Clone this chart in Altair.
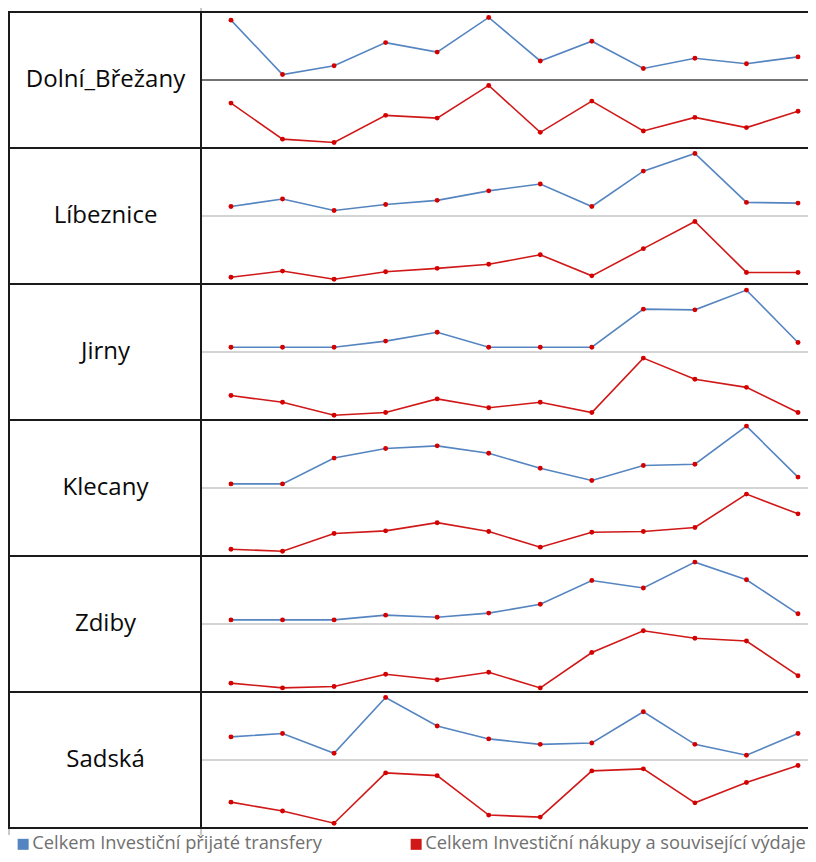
import altair as alt
import pandas as pd

# ---- data (relative heights, % of each series' half-band) ----
municipalities = ["Dolní_Břežany", "Líbeznice", "Jirny", "Klecany", "Zdiby", "Sadská"]
series_blue = "Celkem Investiční přijaté transfery"
series_red = "Celkem Investiční nákupy a související výdaje"
periods = list(range(1, 13))

blue_values = [
    [88, 8, 21, 55, 41, 92, 28, 57, 17, 32, 24, 34],
    [14, 25, 8, 17, 23, 37, 47, 14, 66, 92, 20, 19],
    [7, 7, 7, 16, 29, 7, 7, 7, 63, 62, 91, 14],
    [6, 6, 44, 58, 62, 51, 29, 11, 33, 35, 91, 16],
    [6, 6, 6, 13, 10, 16, 29, 64, 53, 91, 65, 15],
    [34, 39, 10, 92, 50, 31, 23, 25, 71, 23, 7, 39],
]
red_values = [
    [66, 13, 8, 48, 44, 92, 23, 69, 25, 45, 30, 54],
    [10, 19, 7, 18, 23, 29, 43, 12, 52, 92, 17, 17],
    [36, 26, 7, 11, 31, 18, 26, 11, 91, 60, 48, 11],
    [10, 7, 33, 37, 49, 36, 13, 35, 36, 42, 91, 62],
    [13, 6, 8, 26, 18, 29, 6, 58, 90, 79, 75, 24],
    [38, 25, 7, 81, 77, 19, 16, 84, 87, 37, 67, 92],
]

n_rows = len(municipalities)
rows = []
for r, m in enumerate(municipalities):
    base = (n_rows - 1 - r) * 2
    for i, p in enumerate(periods):
        rows.append({"muni": m, "series": series_blue, "period": p,
                     "yv": base + 1 + blue_values[r][i] / 100, "key": m + "|b"})
        rows.append({"muni": m, "series": series_red, "period": p,
                     "yv": base + red_values[r][i] / 100, "key": m + "|r"})
df = pd.DataFrame(rows)

labels_df = pd.DataFrame({"muni": municipalities,
                          "yc": [(n_rows - 1 - r) * 2 + 1 for r in range(n_rows)]})
bounds_df = pd.DataFrame({"yb": [2 * k for k in range(n_rows + 1)]})
mid_dark_df = pd.DataFrame({"ym": [2 * n_rows - 1]})
mid_gray_df = pd.DataFrame({"ym": [2 * k + 1 for k in range(n_rows - 1)]})

W, H = 800, 816
DIV = 193
xs = alt.Scale(domain=[-3.326, 12.194], nice=False, zero=False)
ys = alt.Scale(domain=[0, 12], nice=False, zero=False)

borders_h = alt.Chart(bounds_df).mark_rule(color="#1a1a1a", strokeWidth=2).encode(
    y=alt.Y("yb:Q", scale=ys, axis=None), x=alt.value(0), x2=alt.value(W))
border_left = alt.Chart(bounds_df).mark_rule(color="#1a1a1a", strokeWidth=2).encode(
    x=alt.value(1), y=alt.value(0), y2=alt.value(H))
border_div = alt.Chart(bounds_df).mark_rule(color="#1a1a1a", strokeWidth=2).encode(
    x=alt.value(DIV), y=alt.value(0), y2=alt.value(H))
tick_b1 = alt.Chart(bounds_df).mark_rule(color="#c8c8c8", strokeWidth=1.5).encode(
    x=alt.value(DIV), y=alt.value(H + 1), y2=alt.value(H + 7))
tick_b2 = alt.Chart(bounds_df).mark_rule(color="#c8c8c8", strokeWidth=1.5).encode(
    x=alt.value(1), y=alt.value(H + 1), y2=alt.value(H + 7))
tick_t = alt.Chart(bounds_df).mark_rule(color="#c8c8c8", strokeWidth=1.5).encode(
    x=alt.value(DIV), y=alt.value(-4), y2=alt.value(-1))

mid_dark = alt.Chart(mid_dark_df).mark_rule(color="#444444", strokeWidth=1.5).encode(
    y=alt.Y("ym:Q", scale=ys, axis=None), x=alt.value(DIV), x2=alt.value(W))
mid_gray = alt.Chart(mid_gray_df).mark_rule(color="#d4d4d4", strokeWidth=2).encode(
    y=alt.Y("ym:Q", scale=ys, axis=None), x=alt.value(DIV), x2=alt.value(W))

labels = alt.Chart(labels_df).mark_text(
    font="Open Sans", fontSize=24, color="#0a0a0a", align="center", baseline="middle"
).encode(y=alt.Y("yc:Q", scale=ys, axis=None), x=alt.value(97.5), text="muni:N")

lines = alt.Chart(df).mark_line(strokeWidth=1.6).encode(
    x=alt.X("period:Q", scale=xs, axis=None),
    y=alt.Y("yv:Q", scale=ys, axis=None),
    color=alt.Color("series:N",
                    scale=alt.Scale(domain=[series_blue, series_red], range=["#5585c0", "#d01818"]),
                    legend=alt.Legend(orient="none", legendX=6, legendY=823, direction="horizontal",
                                      title=None, symbolType="square", symbolSize=25,
                                      symbolStrokeWidth=6, labelFont="Open Sans", labelFontSize=18.3,
                                      labelColor="#707070", columnPadding=79, labelOffset=0,
                                      labelLimit=700)),
    detail="key:N",
)
points = alt.Chart(df).mark_circle(size=24, color="#d40000", opacity=1).encode(
    x=alt.X("period:Q", scale=xs, axis=None),
    y=alt.Y("yv:Q", scale=ys, axis=None),
    detail="key:N",
)

chart = alt.layer(
    mid_dark, mid_gray, borders_h, border_left, border_div, tick_b1, tick_b2, tick_t,
    labels, lines, points
).properties(
    width=W, height=H,
    autosize=alt.AutoSizeParams(type="none"),
    padding={"left": 0, "top": 4, "right": 0, "bottom": 26},
).configure_view(stroke=None)

chart.save("out.html", embed_options={"renderer": "svg", "actions": False})
